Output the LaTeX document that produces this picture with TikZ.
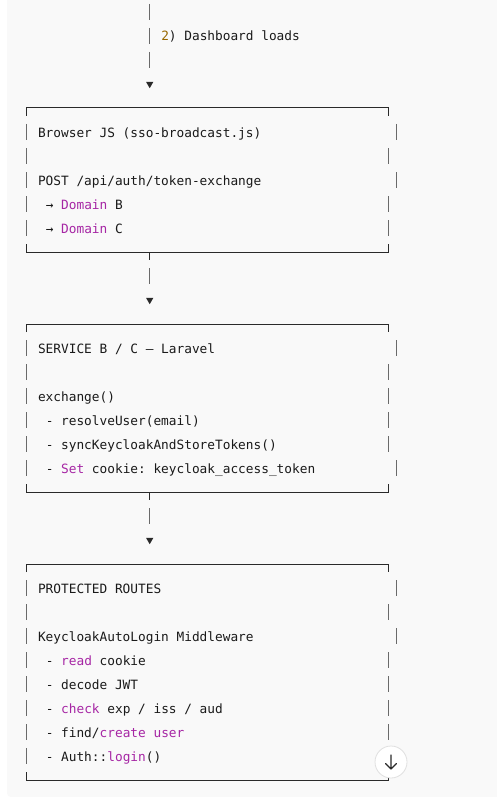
\documentclass[tikz,border=0pt]{standalone}
\usepackage{fontspec}
\setmonofont{DejaVu Sans Mono}
\usetikzlibrary{shapes.geometric}
\definecolor{bg}{HTML}{F9F9F9}
\definecolor{kw}{HTML}{A626A4}
\definecolor{num}{HTML}{986801}
\definecolor{txt}{HTML}{1A1A1A}
\definecolor{barc}{HTML}{6A6A6A}
\definecolor{linec}{HTML}{2A2A2A}
\tikzset{
  code/.style={anchor=base west, inner sep=0pt, outer sep=0pt, text=txt,
    font=\fontsize{12.79}{15}\selectfont\ttfamily},
  vline/.style={draw=barc, line width=1.1pt},
  hline/.style={draw=linec, line width=1pt},
  conn/.style={draw=barc, line width=1.1pt, dash pattern=on 16pt off 8pt},
  tri/.style={regular polygon, regular polygon sides=3, shape border rotate=180,
    fill=linec, draw=none, inner sep=0pt, minimum size=8.4pt},
  kwd/.style={text=kw}
}
\newcommand\kw[1]{\textcolor{kw}{#1}}
\begin{document}
\begin{tikzpicture}[x=1pt,y=-1pt]
\useasboundingbox (0,0) rectangle (497,797);
\fill[white] (0,0) rectangle (497,797);
\fill[bg] (7,0) -- (497,0) -- (497,797) -- (11,797) arc[start angle=90, end angle=180, radius=4] -- cycle;

% ---------- top connector ----------
\coordinate (c0s) at (149.7,4);
\coordinate (c0e) at (149.7,68);
\draw[conn] (c0s) -- (c0e);
\node[tri] (a0) at (149.7,84) {};
\node[code] (lbl) at (161.25,41) {\textcolor{num}{2}) Dashboard loads};

% ---------- box 1 ----------
\draw[hline] (26.5,116) -- (26.5,108) -- (388.4,108) -- (388.4,116);
\foreach \yc/\xr in {132/396.1,156/388.4,180/396.1,204/388.4,228/388.4}{
  \draw[vline] (26.5,\yc-8) -- (26.5,\yc+8);
  \draw[vline] (\xr,\yc-8) -- (\xr,\yc+8);
}
\draw[hline] (26.5,244) -- (26.5,252) -- (388.4,252) -- (388.4,244);
\draw[hline] (149.7,252) -- (149.7,260);
\node[code] (b1a) at (38.05,137) {Browser JS (sso-broadcast.js)};
\node[code] (b1b) at (38.05,185) {POST /api/auth/token-exchange};
\node[code] (b1c) at (45.75,209) {→ \kw{Domain} B};
\node[code] (b1d) at (45.75,233) {→ \kw{Domain} C};

% ---------- connector 1 ----------
\coordinate (c1s) at (149.7,268);
\coordinate (c1e) at (149.7,284);
\draw[conn] (c1s) -- (c1e);
\node[tri] (a1) at (149.7,300) {};

% ---------- box 2 ----------
\draw[hline] (26.5,332) -- (26.5,324) -- (388.4,324) -- (388.4,332);
\foreach \yc/\xr in {348/396.1,372/388.4,396/388.4,420/388.4,444/388.4,468/396.1}{
  \draw[vline] (26.5,\yc-8) -- (26.5,\yc+8);
  \draw[vline] (\xr,\yc-8) -- (\xr,\yc+8);
}
\draw[hline] (26.5,484) -- (26.5,492) -- (388.4,492) -- (388.4,484);
\draw[hline] (149.7,492) -- (149.7,500);
\node[code] (b2a) at (38.05,353) {SERVICE B / C – Laravel};
\node[code] (b2b) at (38.05,401) {exchange()};
\node[code] (b2c) at (45.75,425) {- resolveUser(email)};
\node[code] (b2d) at (45.75,449) {- syncKeycloakAndStoreTokens()};
\node[code] (b2e) at (45.75,473) {- \kw{Set} cookie: keycloak\_access\_token};

% ---------- connector 2 ----------
\coordinate (c2s) at (149.7,508);
\coordinate (c2e) at (149.7,524);
\draw[conn] (c2s) -- (c2e);
\node[tri] (a2) at (149.7,540) {};

% ---------- box 3 ----------
\draw[hline] (26.5,572) -- (26.5,564) -- (388.4,564) -- (388.4,572);
\foreach \yc/\xr in {588/396.1,612/388.4,636/396.1,660/388.4,684/388.4,708/388.4,732/388.4,756/388.4}{
  \draw[vline] (26.5,\yc-8) -- (26.5,\yc+8);
  \draw[vline] (\xr,\yc-8) -- (\xr,\yc+8);
}
\draw[hline] (26.5,772) -- (26.5,780) -- (388.4,780) -- (388.4,772);
\node[code] (b3a) at (38.05,593) {PROTECTED ROUTES};
\node[code] (b3b) at (38.05,641) {KeycloakAutoLogin Middleware};
\node[code] (b3c) at (45.75,665) {- \kw{read} cookie};
\node[code] (b3d) at (45.75,689) {- decode JWT};
\node[code] (b3e) at (45.75,713) {- \kw{check} exp / iss / aud};
\node[code] (b3f) at (45.75,737) {- find/\kw{create} \kw{user}};
\node[code] (b3g) at (45.75,761) {- Auth::\kw{login}()};

% ---------- scroll button ----------
\node[circle, fill=white, draw=black!12, line width=0.8pt, minimum size=32pt, inner sep=0pt] (btn) at (391,762) {};
\draw[linec, line width=1.3pt, line cap=round, line join=round]
  ([yshift=-7pt]btn.center) -- ([yshift=7pt]btn.center)
  ([shift={(-5.5pt,-1.5pt)}]btn.center) -- ([yshift=-7pt]btn.center) -- ([shift={(5.5pt,-1.5pt)}]btn.center);
\end{tikzpicture}
\end{document}
